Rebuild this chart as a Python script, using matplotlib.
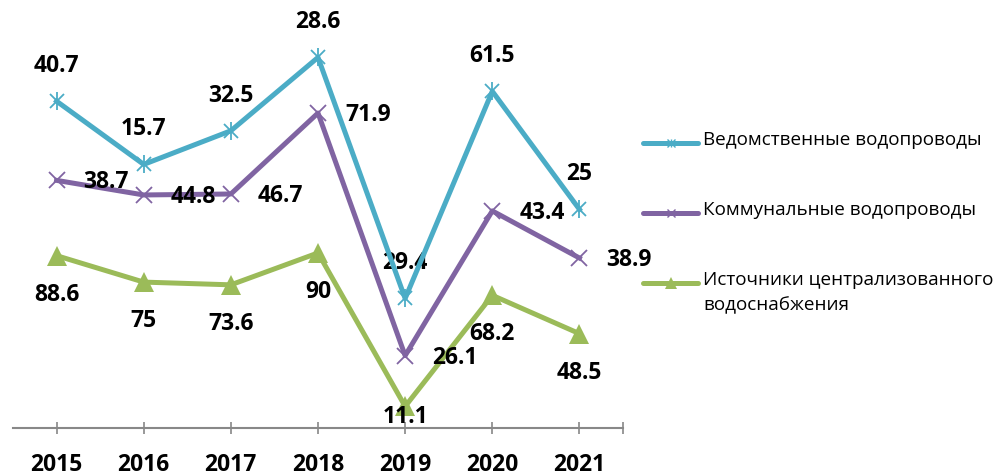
import numpy as np
import matplotlib.pyplot as plt
from matplotlib.lines import Line2D

plt.rcParams['font.family'] = ['Open Sans', 'DejaVu Sans']

years = ['2015', '2016', '2017', '2018', '2019', '2020', '2021']
vedomst = [40.7, 15.7, 32.5, 28.6, 29.4, 61.5, 25]
kommun = [38.7, 44.8, 46.7, 71.9, 26.1, 43.4, 38.9]
istochn = [88.6, 75, 73.6, 90, 11.1, 68.2, 48.5]

names = ['Ведомственные водопроводы', 'Коммунальные водопроводы',
         'Источники централизованного\nводоснабжения']
colors = ['#4BACC6', '#8064A2', '#9BBB59']

# stacked lines
green = np.array(istochn)
purple = green + np.array(kommun)
blue = purple + np.array(vedomst)
x = np.arange(len(years))

fig = plt.figure(figsize=(10.08, 4.75), dpi=100)
ax = fig.add_axes([13 / 1008, 47 / 475, 610 / 1008, 408.5 / 475])

lw = 3.6
ax.plot(x, green, color=colors[2], lw=lw, marker='^', ms=14, mew=0, zorder=3)
ax.plot(x, purple, color=colors[1], lw=lw, marker='x', ms=11, mew=1.3, zorder=4)
ax.plot(x, blue, color=colors[0], lw=lw, marker='x', ms=9.5, mew=1.3, zorder=5)
ax.plot(x, blue, color=colors[0], lw=0, marker='|', ms=13, mew=1.3, zorder=5)

fs = 16.5
for i in range(len(x)):
    ax.text(x[i], blue[i] + 18, f'{vedomst[i]:g}', ha='center', va='center',
            fontsize=fs, fontweight='bold', clip_on=False)
    ax.text(x[i] + 0.31, purple[i] - 1, f'{kommun[i]:g}', ha='left', va='center',
            fontsize=fs, fontweight='bold', clip_on=False, zorder=6)
    ax.text(x[i], max(green[i] - 20, 5.5), f'{istochn[i]:g}', ha='center', va='center',
            fontsize=fs, fontweight='bold', clip_on=False, zorder=6)

ax.set_xlim(-0.5, 6.5)
ax.set_ylim(0, 210)
ax.set_xticks(list(x) + [6.5])
ax.set_xticklabels(years + [''], fontsize=fs, fontweight='bold')
ax.tick_params(axis='x', direction='inout', length=8, width=1.2, color='#888888', pad=14)
ax.set_yticks([])
for s in ['left', 'right', 'top']:
    ax.spines[s].set_visible(False)
ax.spines['bottom'].set_color('#888888')
ax.spines['bottom'].set_linewidth(1.5)

# legend drawn by hand (handle aligned with first line of text)
leg_y = [143, 213, 283]
leg_markers = [['x', '|'], ['x'], ['^']]
for name, c, ms_list, py in zip(names, colors, leg_markers, leg_y):
    yf = 1 - py / 475
    fig.add_artist(Line2D([643 / 1008, 698 / 1008], [yf, yf], color=c, lw=lw,
                          solid_capstyle='round'))
    for m in ms_list:
        fig.add_artist(Line2D([670.5 / 1008], [yf], color=c, marker=m,
                              ms=8 if m == '^' else 6, mew=0 if m == '^' else 1.0, lw=0))
    fig.text(703 / 1008, yf + 12 / 475, name, ha='left', va='top', fontsize=13.6,
             linespacing=1.55)

fig.savefig('out.png', dpi=100)
